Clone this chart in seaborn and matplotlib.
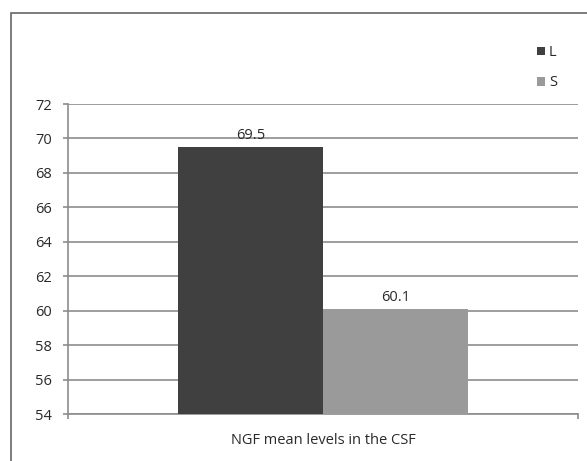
import matplotlib
matplotlib.use("Agg")
import matplotlib.pyplot as plt
import seaborn as sns
import pandas as pd
from matplotlib.patches import Rectangle, Patch

# Data
groups = ["L", "S"]
means = [69.5, 60.1]
category = ["NGF mean levels in the CSF", "NGF mean levels in the CSF"]
colors = ["#404040", "#9a9a9a"]
y_ticks = [54, 56, 58, 60, 62, 64, 66, 68, 70, 72]

df = pd.DataFrame({"category": category, "group": groups, "mean": means})

sns.set_theme(style="white")
plt.rcParams["font.family"] = ["Open Sans", "DejaVu Sans"]
FS = 10.5
TXT = "#2a2a2a"

fig = plt.figure(figsize=(5.87, 4.61), dpi=100)
ax = fig.add_axes([68 / 587, 1 - 414 / 461, (578 - 68) / 587, (414 - 104) / 461])

sns.barplot(data=df, x="category", y="mean", hue="group", palette=colors,
            width=0.57, gap=0, ax=ax, legend=False, saturation=1,
            edgecolor="none", zorder=3)

ax.set_yticks(y_ticks)
ax.set_yticklabels([str(t) for t in y_ticks], fontsize=FS, color=TXT)
ax.yaxis.grid(True, color="#8c8c8c", linewidth=1.2, zorder=0)
ax.set_axisbelow(True)

ax.set_xticks([-0.5, 0.5])
ax.set_xticklabels(["", ""])
ax.set_xlabel("NGF mean levels in the CSF", fontsize=FS, color=TXT, labelpad=6)
ax.set_ylabel("")

for side in ["top", "right"]:
    ax.spines[side].set_visible(False)
for side in ["left", "bottom"]:
    ax.spines[side].set_color("#8c8c8c")
    ax.spines[side].set_linewidth(1.2)
ax.tick_params(axis="both", which="both", direction="out", length=3.6,
               width=1.2, color="#8c8c8c", left=True, bottom=True)
ax.tick_params(axis="y", pad=8)
ax.tick_params(axis="x", pad=4)

# value labels above bars
for container in ax.containers:
    ax.bar_label(container, labels=[f"{v:.1f}" for v in container.datavalues],
                 padding=3, fontsize=FS, color=TXT)

# outer chart frame
fig.patches.append(Rectangle((11 / 587, -0.1), 1.2, 1 - 13 / 461 + 0.1,
                             transform=fig.transFigure, fill=False,
                             edgecolor="#666666", linewidth=1.2))

handles = [Patch(facecolor=c, edgecolor="none") for c in colors]
fig.legend(handles, groups, loc="upper left", bbox_to_anchor=(524 / 587, 1 - 32 / 461),
           frameon=False, fontsize=FS, handlelength=0.55, handleheight=0.55,
           handletextpad=0.25, labelspacing=1.05, labelcolor=TXT)

# fix the view last so nothing widens it
ax.autoscale(False)
ax.set_xlim(-0.5, 0.5)
ax.set_ylim(54, 72)

fig.savefig("out.png", dpi=100)
